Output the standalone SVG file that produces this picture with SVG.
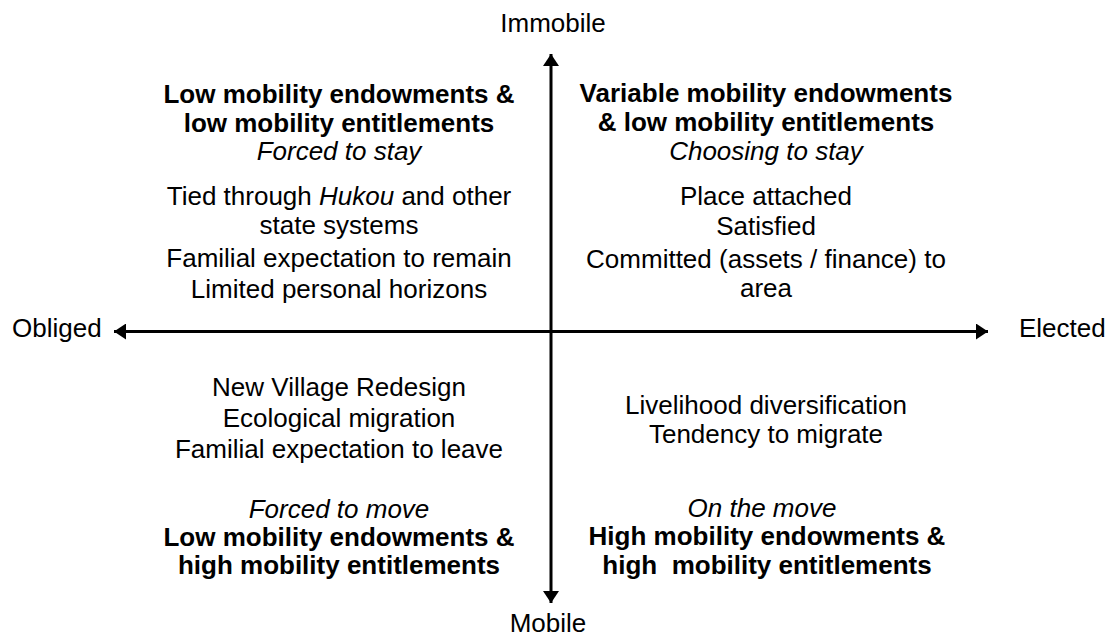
<svg xmlns="http://www.w3.org/2000/svg" width="1107" height="639" viewBox="0 0 1107 639">
<defs>
<style>
text{font-family:"Liberation Sans",Arial,sans-serif;font-size:26px;fill:#000;}
.c{text-anchor:middle;}
.b{font-weight:bold;}
.i{font-style:italic;}
.ax{stroke:#000;stroke-width:3;fill:none;}
</style>
<marker id="ah" viewBox="0 0 12 16" refX="12" refY="8" markerWidth="12" markerHeight="16" markerUnits="userSpaceOnUse" orient="auto">
<path d="M0,0 L12,8 L0,16 Z" fill="#000"/>
</marker>
</defs>
<rect width="1107" height="639" fill="#fff"/>
<g id="connectors">
<line class="ax" x1="551" y1="331.5" x2="551" y2="54" marker-end="url(#ah)"/>
<line class="ax" x1="551" y1="331.5" x2="551" y2="603" marker-end="url(#ah)"/>
<line class="ax" x1="551" y1="331.5" x2="114" y2="331.5" marker-end="url(#ah)"/>
<line class="ax" x1="551" y1="331.5" x2="988" y2="331.5" marker-end="url(#ah)"/>
</g>
<g id="axis-immobile"><text class="c" x="553" y="32">Immobile</text></g>
<g id="axis-mobile"><text class="c" x="548" y="632">Mobile</text></g>
<g id="axis-obliged"><text x="12" y="337">Obliged</text></g>
<g id="axis-elected"><text x="1019" y="337">Elected</text></g>
<g id="q-upper-left">
<text class="c b" x="339" y="103">Low mobility endowments &amp;</text>
<text class="c b" x="339" y="132">low mobility entitlements</text>
<text class="c i" x="339" y="160">Forced to stay</text>
<text class="c" x="339" y="205">Tied through <tspan class="i">Hukou</tspan> and other</text>
<text class="c" x="339" y="234">state systems</text>
<text class="c" x="339" y="267">Familial expectation to remain</text>
<text class="c" x="339" y="298">Limited personal horizons</text>
</g>
<g id="q-upper-right">
<text class="c b" x="766" y="102">Variable mobility endowments</text>
<text class="c b" x="766" y="131">&amp; low mobility entitlements</text>
<text class="c i" x="766" y="160">Choosing to stay</text>
<text class="c" x="766" y="205">Place attached</text>
<text class="c" x="766" y="235">Satisfied</text>
<text class="c" x="766" y="268">Committed (assets / finance) to</text>
<text class="c" x="766" y="297">area</text>
</g>
<g id="q-lower-left">
<text class="c" x="339" y="396">New Village Redesign</text>
<text class="c" x="339" y="427">Ecological migration</text>
<text class="c" x="339" y="458">Familial expectation to leave</text>
<text class="c i" x="339" y="518">Forced to move</text>
<text class="c b" x="339" y="546">Low mobility endowments &amp;</text>
<text class="c b" x="339" y="574">high mobility entitlements</text>
</g>
<g id="q-lower-right">
<text class="c" x="766" y="414">Livelihood diversification</text>
<text class="c" x="766" y="443">Tendency to migrate</text>
<text class="c i" x="762" y="517">On the move</text>
<text class="c b" x="767" y="545">High mobility endowments &amp;</text>
<text class="c b" x="767" y="574" xml:space="preserve">high  mobility entitlements</text>
</g>
</svg>
